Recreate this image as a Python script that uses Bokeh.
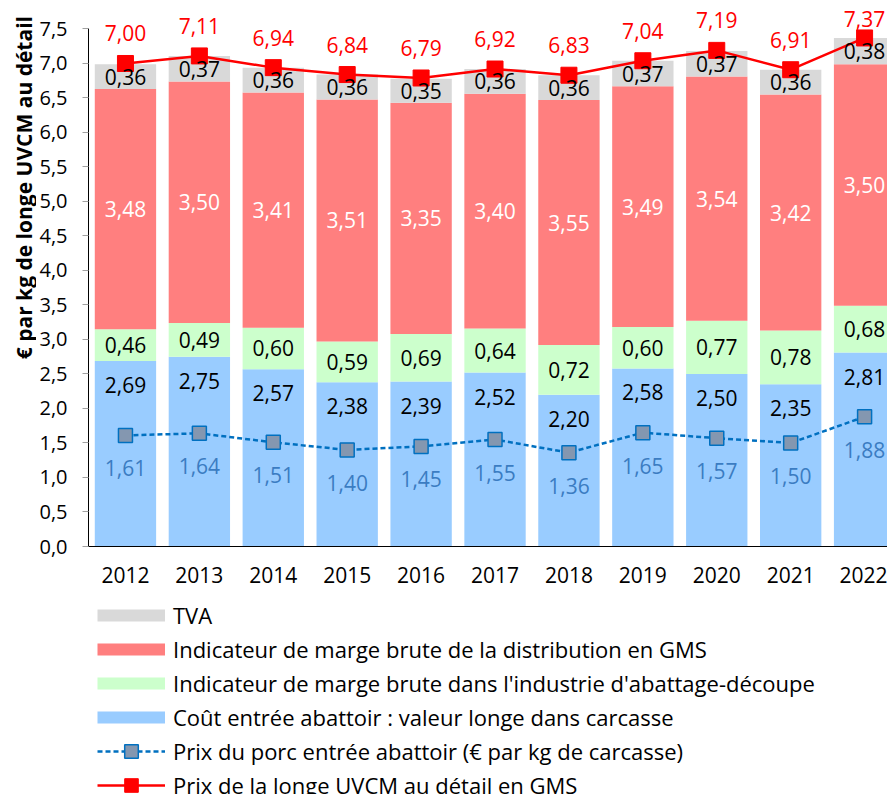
import numpy as np
from bokeh.plotting import figure
from bokeh.layouts import column, row
from bokeh.models import (ColumnDataSource, FixedTicker, CustomJSTickFormatter,
                          Legend, LegendItem, Label, Range1d)
from bokeh.core.properties import value
from bokeh.embed import file_html
from bokeh.resources import INLINE

# ---------------- data ----------------
years = ["2012", "2013", "2014", "2015", "2016", "2017", "2018", "2019", "2020", "2021", "2022"]
cout_abattoir = [2.69, 2.75, 2.57, 2.38, 2.39, 2.52, 2.20, 2.58, 2.50, 2.35, 2.81]
marge_industrie = [0.46, 0.49, 0.60, 0.59, 0.69, 0.64, 0.72, 0.60, 0.77, 0.78, 0.68]
marge_distribution = [3.48, 3.50, 3.41, 3.51, 3.35, 3.40, 3.55, 3.49, 3.54, 3.42, 3.50]
tva = [0.36, 0.37, 0.36, 0.36, 0.35, 0.36, 0.36, 0.37, 0.37, 0.36, 0.38]
prix_longe = [7.00, 7.11, 6.94, 6.84, 6.79, 6.92, 6.83, 7.04, 7.19, 6.91, 7.37]
prix_porc = [1.61, 1.64, 1.51, 1.40, 1.45, 1.55, 1.36, 1.65, 1.57, 1.50, 1.88]
y_ticks = [0.0, 0.5, 1.0, 1.5, 2.0, 2.5, 3.0, 3.5, 4.0, 4.5, 5.0, 5.5, 6.0, 6.5, 7.0, 7.5]

labels_legend = [
    "TVA",
    "Indicateur de marge brute de la distribution en GMS",
    "Indicateur de marge brute dans l'industrie d'abattage-découpe",
    "Coût entrée abattoir : valeur longe dans carcasse",
    "Prix du porc entrée abattoir (€ par kg de carcasse)",
    "Prix de la longe UVCM au détail en GMS",
]
y_title = "€ par kg de longe UVCM au détail"

C_TVA = "#D9D9D9"
C_DIST = "#FF7F7F"
C_IND = "#CCFFCC"
C_COUT = "#99CCFF"
C_PORC = "#0070C0"
C_PORC_FILL = "#8497B0"
C_PORC_TXT = "#3B7CC2"
C_LONGE = "#FF0000"

FONT = "Open Sans"
FS_TICK = "20px"
FS_LBL = "21px"
FS_LEG = "22px"


def fr(v):
    return f"{v:.2f}".replace(".", ",")


x = np.arange(len(years)) + 0.5
b1 = np.array(cout_abattoir)
b2 = b1 + np.array(marge_industrie)
b3 = b2 + np.array(marge_distribution)
b4 = b3 + np.array(tva)

src = ColumnDataSource(dict(
    x=x, b1=b1, b2=b2, b3=b3, b4=b4,
    porc=prix_porc, longe=prix_longe,
    t_cout=[fr(v) for v in cout_abattoir],
    t_ind=[fr(v) for v in marge_industrie],
    t_dist=[fr(v) for v in marge_distribution],
    t_tva=[fr(v) for v in tva],
    t_porc=[fr(v) for v in prix_porc],
    t_longe=[fr(v) for v in prix_longe],
    y_ind=(b1 + b2) / 2, y_dist=(b2 + b3) / 2, y_tva=(b3 + b4) / 2,
    y_longe_lbl=np.minimum(np.array(prix_longe) + 30 / 69, 7.65),
))

# ---------------- y-axis title strip ----------------
TW = 36
TH = 598
pt = figure(width=TW, height=TH, output_backend="svg", toolbar_location=None,
            x_range=Range1d(0, 1), y_range=Range1d(0, 1),
            x_axis_type=None, y_axis_type=None,
            min_border_left=0, min_border_right=0, min_border_top=0,
            min_border_bottom=0)
pt.outline_line_color = None
pt.grid.visible = False
pt.add_layout(Label(x=23 / TW, y=1 - 205 / TH, text=y_title, angle=np.pi / 2,
                    text_align="center", text_baseline="middle",
                    text_font=FONT, text_font_size="21px", text_font_style="bold",
                    text_color="black"))

# ---------------- main chart ----------------
p = figure(width=887 - TW, height=TH, output_backend="svg", toolbar_location=None,
           x_range=Range1d(0, 10.81), y_range=Range1d(0, 7.913),
           min_border_left=86 - TW, min_border_right=0, min_border_top=0,
           min_border_bottom=52)
p.outline_line_color = None
p.grid.visible = False

W = 0.83
p.vbar(x="x", bottom=0, top="b1", width=W, source=src, fill_color=C_COUT, line_color=None)
p.vbar(x="x", bottom="b1", top="b2", width=W, source=src, fill_color=C_IND, line_color=None)
p.vbar(x="x", bottom="b2", top="b3", width=W, source=src, fill_color=C_DIST, line_color=None)
p.vbar(x="x", bottom="b3", top="b4", width=W, source=src, fill_color=C_TVA, line_color=None)

p.line("x", "porc", source=src, line_color=C_PORC, line_width=2.5, line_dash="5 3")
p.scatter("x", "porc", source=src, marker="square", size=14,
          fill_color=C_PORC_FILL, line_color=C_PORC, line_width=1.5)
p.line("x", "longe", source=src, line_color=C_LONGE, line_width=2.5)
p.scatter("x", "longe", source=src, marker="square", size=16,
          fill_color=C_LONGE, line_color=C_LONGE)

common = dict(source=src, text_font=value(FONT), text_font_size=FS_LBL,
              text_align="center", text_baseline="middle")
p.text("x", "b1", text="t_cout", y_offset=24, text_color="black", **common)
p.text("x", "y_ind", text="t_ind", text_color="black", **common)
p.text("x", "y_dist", text="t_dist", text_color="white", **common)
p.text("x", "y_tva", text="t_tva", text_color="black", **common)
p.text("x", "porc", text="t_porc", y_offset=33, text_color=C_PORC_TXT, **common)
p.text("x", "y_longe_lbl", text="t_longe", text_color=C_LONGE, **common)

# axes
p.yaxis.ticker = FixedTicker(ticks=y_ticks)
p.yaxis.formatter = CustomJSTickFormatter(code="return tick.toFixed(1).replace('.', ',')")
p.yaxis.bounds = (0, 7.5)
p.yaxis.axis_line_color = "black"
p.yaxis.major_tick_out = 6
p.yaxis.major_tick_in = 0
p.yaxis.major_tick_line_color = "#A0A0A0"
p.yaxis.minor_tick_line_color = None
p.yaxis.major_label_standoff = 15
p.yaxis.major_label_text_font = FONT
p.yaxis.major_label_text_font_size = FS_TICK
p.yaxis.major_label_text_color = "black"

p.xaxis.ticker = FixedTicker(ticks=list(x))
p.xaxis.formatter = CustomJSTickFormatter(args=dict(years=years),
                                          code="return years[Math.floor(tick)]")
p.xaxis.axis_line_color = "black"
p.xaxis.major_tick_line_color = None
p.xaxis.minor_tick_line_color = None
p.xaxis.major_label_standoff = 14
p.xaxis.major_label_text_font = FONT
p.xaxis.major_label_text_font_size = "21px"
p.xaxis.major_label_text_color = "black"

# ---------------- legend strip ----------------
pl = figure(width=887, height=794 - TH, output_backend="svg", toolbar_location=None,
            x_range=Range1d(0, 1), y_range=Range1d(0, 1),
            x_axis_type=None, y_axis_type=None,
            min_border_left=97, min_border_right=0, min_border_top=0,
            min_border_bottom=0)
pl.outline_line_color = None
pl.grid.visible = False

nan = [np.nan]
leg_tva = pl.line(x=nan, y=nan, line_width=12, line_color=C_TVA)
leg_dist = pl.line(x=nan, y=nan, line_width=12, line_color=C_DIST)
leg_ind = pl.line(x=nan, y=nan, line_width=12, line_color=C_IND)
leg_cout = pl.line(x=nan, y=nan, line_width=12, line_color=C_COUT)
leg_porc_l = pl.line(x=nan, y=nan, line_color=C_PORC, line_width=2.5, line_dash="5 3")
leg_porc_m = pl.scatter(x=nan, y=nan, marker="square", size=14,
                        fill_color=C_PORC_FILL, line_color=C_PORC, line_width=1.5)
leg_longe_l = pl.line(x=nan, y=nan, line_color=C_LONGE, line_width=2.5)
leg_longe_m = pl.scatter(x=nan, y=nan, marker="square", size=16,
                         fill_color=C_LONGE, line_color=C_LONGE)

items = [
    LegendItem(label=labels_legend[0], renderers=[leg_tva]),
    LegendItem(label=labels_legend[1], renderers=[leg_dist]),
    LegendItem(label=labels_legend[2], renderers=[leg_ind]),
    LegendItem(label=labels_legend[3], renderers=[leg_cout]),
    LegendItem(label=labels_legend[4], renderers=[leg_porc_l, leg_porc_m]),
    LegendItem(label=labels_legend[5], renderers=[leg_longe_l, leg_longe_m]),
]
legend = Legend(items=items, location="top_left", orientation="vertical",
                glyph_width=68, glyph_height=34, label_height=34, spacing=0,
                padding=0, margin=0, label_standoff=8,
                border_line_color=None, background_fill_alpha=0,
                label_text_font=FONT, label_text_font_size=FS_LEG,
                label_text_color="black")
pl.add_layout(legend)

layout = column(row(pt, p, spacing=0), pl, spacing=0)
open("out.html", "w").write(file_html(layout, INLINE))
